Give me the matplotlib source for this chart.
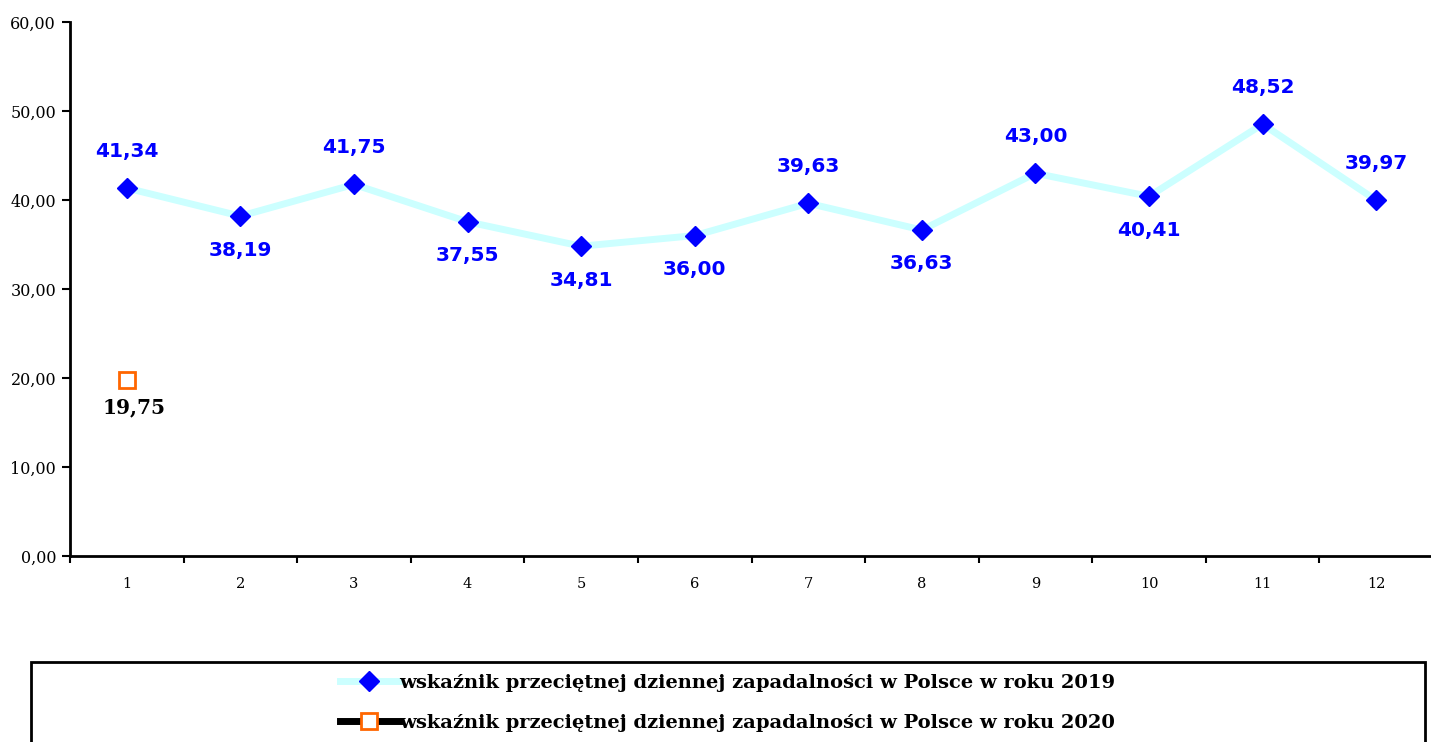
import matplotlib.pyplot as plt
from matplotlib.patches import Rectangle

months = [1, 2, 3, 4, 5, 6, 7, 8, 9, 10, 11, 12]
vals_2019 = [41.34, 38.19, 41.75, 37.55, 34.81, 36.00, 39.63, 36.63, 43.00, 40.41, 48.52, 39.97]
months_2020 = [1]
vals_2020 = [19.75]
label_pos = ['a', 'b', 'a', 'b', 'b', 'b', 'a', 'b', 'a', 'b', 'a', 'a']
yticks = [0, 10, 20, 30, 40, 50, 60]

lab19 = 'wskaźnik przeciętnej dziennej zapadalności w Polsce w roku 2019'
lab20 = 'wskaźnik przeciętnej dziennej zapadalności w Polsce w roku 2020'

def fmt(v):
    return f'{v:.2f}'.replace('.', ',')

W, H = 1431, 742
fig = plt.figure(figsize=(W/100, H/100), dpi=100)
ax = fig.add_axes([70/W, (H-556)/H, (1433-70)/W, (556-22)/H])

ax.plot(months, vals_2019, '-', color='#ccffff', linewidth=5, zorder=2,
        marker='D', markersize=10.5, markerfacecolor='#0000ff', markeredgecolor='#0000ff',
        label=lab19)
ax.plot(months_2020, vals_2020, '-', color='black', linewidth=5, zorder=3,
        marker='s', markersize=11, markerfacecolor='white', markeredgecolor='#ff6600',
        markeredgewidth=2, label=lab20)

for m, v, p in zip(months, vals_2019, label_pos):
    dy = 37 if p == 'a' else -34
    ax.annotate(fmt(v), (m, v), xytext=(0, dy), textcoords='offset pixels',
                ha='center', va='center', color='#0000ff', fontsize=14.5,
                fontweight='heavy', family='DejaVu Sans')
for m, v in zip(months_2020, vals_2020):
    ax.annotate(fmt(v), (m, v), xytext=(7, -27), textcoords='offset pixels',
                ha='center', va='center', color='black', fontsize=14.5,
                fontweight='bold', family='DejaVu Serif')

ax.set_xlim(0.5, 12.5)
ax.set_ylim(0, 60)
ax.set_yticks(yticks)
ax.set_yticklabels([fmt(t) for t in yticks], family='DejaVu Serif', fontsize=11.5)
ax.set_xticks(months)
ax.set_xticklabels([str(m) for m in months], family='DejaVu Serif', fontsize=10.5)
ax.set_xticks([m + 0.5 for m in range(0, 13)], minor=True)
ax.tick_params(axis='x', which='major', length=0, pad=15)
ax.tick_params(axis='x', which='minor', length=5, width=1.5, direction='out')
ax.tick_params(axis='y', which='major', length=6, width=1.5, direction='out', pad=4)
for s in ['top', 'right']:
    ax.spines[s].set_visible(False)
for s in ['left', 'bottom']:
    ax.spines[s].set_linewidth(2)

fig.patches.append(Rectangle((31/W, -0.05), (1425-31)/W, (H-662)/H + 0.05,
                             transform=fig.transFigure, fill=False,
                             edgecolor='black', linewidth=2))
h, l = ax.get_legend_handles_labels()
fig.legend(h, l, loc='center', bbox_to_anchor=(728/W, (H-703)/H), frameon=False,
           prop={'family': 'DejaVu Serif', 'weight': 'bold', 'size': 14},
           handlelength=3.0, handletextpad=0.05, labelspacing=1.15, borderpad=0)

fig.savefig('out.png', dpi=100)
